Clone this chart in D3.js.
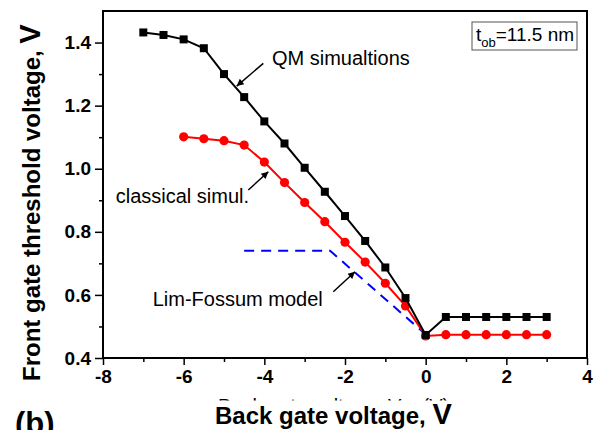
<!DOCTYPE html>
<html><head><meta charset="utf-8">
<script src="https://cdn.jsdelivr.net/npm/d3@7"></script>
<style>
body{margin:0;background:#fff}
svg{display:block}
text{font-family:"Liberation Sans",Arial,Helvetica,sans-serif}
</style>
</head><body>
<svg id="chart" width="599" height="430"></svg>
<script>
// ---- data ----
const qmX = [-7,-6.5,-6,-5.5,-5,-4.5,-4,-3.5,-3,-2.5,-2,-1.5,-1,-0.5,0,0.5,1,1.5,2,2.5,3];
const qmY = [1.432,1.424,1.410,1.382,1.300,1.227,1.150,1.080,1.003,0.927,0.850,0.771,0.687,0.590,0.473,0.530,0.530,0.530,0.530,0.530,0.530];
const clX = [-6,-5.5,-5,-4.5,-4,-3.5,-3,-2.5,-2,-1.5,-1,-0.5,0,0.5,1,1.5,2,2.5,3];
const clY = [1.101,1.095,1.089,1.075,1.021,0.956,0.893,0.832,0.767,0.704,0.637,0.565,0.470,0.474,0.474,0.474,0.474,0.474,0.474];
const lfX = [-4.5,-2.37,0];
const lfY = [0.740,0.740,0.475];
const xTickValues = [-8,-6,-4,-2,0,2,4];
const xTickLabels = ["-8","-6","-4","-2","0","2","4"];
const xMinorTicks = [-7,-5,-3,-1,1,3];
const yTickValues = [0.4,0.6,0.8,1.0,1.2,1.4];
const yTickLabels = ["0.4","0.6","0.8","1.0","1.2","1.4"];
const yMinorTicks = [0.5,0.7,0.9,1.1,1.3];
const annLabels = ["QM simualtions","classical simul.","Lim-Fossum model"];
const annTextX = [-3.81,-7.685,-6.768];
const annTextY = [1.328,0.890,0.566];
const annFromX = [-4.025,-4.397,-2.29];
const annFromY = [1.334,0.9326,0.610];
const annToX = [-4.685,-3.901,-1.752];
const annToY = [1.262,0.9906,0.6736];
const xTitle = "Back gate voltage, ";
const yTitle = "Front gate threshold voltage, ";
const unitV = "V";

// ---- layout ----
const svg = d3.select("#chart");
const L = 103, R = 587, T = 11, B = 358;
const x = d3.scaleLinear().domain([-8,4]).range([L,R]);
const y = d3.scaleLinear().domain([0.4,1.5]).range([B,T]);

const defs = svg.append("defs");
defs.append("marker").attr("id","ah").attr("viewBox","0 0 10 10")
  .attr("refX",10).attr("refY",5).attr("markerWidth",9).attr("markerHeight",7)
  .attr("markerUnits","userSpaceOnUse").attr("orient","auto")
  .append("path").attr("d","M0,0 L10,5 L0,10 z").attr("fill","#000");
defs.append("clipPath").attr("id","hid").append("rect")
  .attr("x",0).attr("y",397.5).attr("width",599).attr("height",3);

// hidden (mostly covered) axis title behind the bold one
const ht = svg.append("text").attr("clip-path","url(#hid)")
  .attr("x",218).attr("y",413).attr("font-size",20).attr("fill","#000");
ht.append("tspan").text("Back gate voltage, V");
ht.append("tspan").attr("font-size",14).attr("dy",4).text("bg");
ht.append("tspan").attr("dy",-4).text(" (V)");

// axes
const axB = d3.axisBottom(x).tickValues(xTickValues).tickSize(7).tickPadding(5)
  .tickFormat((d,i)=>xTickLabels[i]);
const gx = svg.append("g").attr("transform",`translate(0,${B})`).call(axB);
const axBm = d3.axisBottom(x).tickValues(xMinorTicks).tickSize(4).tickFormat("");
const gxm = svg.append("g").attr("transform",`translate(0,${B})`).call(axBm);
const axL = d3.axisLeft(y).tickValues(yTickValues).tickSize(8).tickPadding(4)
  .tickFormat((d,i)=>yTickLabels[i]);
const gy = svg.append("g").attr("transform",`translate(${L},0)`).call(axL);
const axLm = d3.axisLeft(y).tickValues(yMinorTicks).tickSize(4).tickFormat("");
const gym = svg.append("g").attr("transform",`translate(${L},0)`).call(axLm);
[gx,gxm,gy,gym].forEach(g=>{
  g.select(".domain").remove();
  g.selectAll("line").attr("stroke","#000").attr("stroke-width",1.5);
  g.selectAll("text").attr("font-size",19).attr("font-weight","bold")
    .attr("fill","#000").style("font-family",'"Liberation Sans",Arial,sans-serif');
});
gx.selectAll("text").attr("dy","0.71em");

// frame
svg.append("rect").attr("x",L).attr("y",T).attr("width",R-L).attr("height",B-T)
  .attr("fill","none").attr("stroke","#000").attr("stroke-width",2);

// Lim-Fossum dashed line
const lf = lfX.map((v,i)=>[v,lfY[i]]);
const line = d3.line().x(d=>x(d[0])).y(d=>y(d[1]));
svg.append("path").datum(lf).attr("d",line).attr("fill","none")
  .attr("stroke","#0000ff").attr("stroke-width",2).attr("stroke-dasharray","10,7");

// classical (red)
const cl = clX.map((v,i)=>[v,clY[i]]);
svg.append("path").datum(cl).attr("d",line).attr("fill","none")
  .attr("stroke","#ff0000").attr("stroke-width",2);
svg.append("g").selectAll("circle").data(cl).join("circle")
  .attr("cx",d=>x(d[0])).attr("cy",d=>y(d[1])).attr("r",4.6).attr("fill","#ff0000");

// QM (black)
const qm = qmX.map((v,i)=>[v,qmY[i]]);
svg.append("path").datum(qm).attr("d",line).attr("fill","none")
  .attr("stroke","#000").attr("stroke-width",2);
svg.append("g").selectAll("rect").data(qm).join("rect")
  .attr("x",d=>x(d[0])-4).attr("y",d=>y(d[1])-4).attr("width",8).attr("height",8)
  .attr("fill","#000");

// annotations
annLabels.forEach((t,i)=>{
  svg.append("text").attr("x",x(annTextX[i])).attr("y",y(annTextY[i]))
    .attr("font-size",20).attr("fill","#000").text(t);
  svg.append("line").attr("x1",x(annFromX[i])).attr("y1",y(annFromY[i]))
    .attr("x2",x(annToX[i])).attr("y2",y(annToY[i]))
    .attr("stroke","#000").attr("stroke-width",1.5).attr("marker-end","url(#ah)");
});

// t_ob box
svg.append("rect").attr("x",R-115).attr("y",T+11).attr("width",105).attr("height",28)
  .attr("fill","#fff").attr("stroke","#555").attr("stroke-width",1);
const tb = svg.append("text").attr("x",R-111).attr("y",T+30).attr("font-size",19).attr("fill","#000");
tb.append("tspan").text("t");
tb.append("tspan").attr("font-size",13).attr("dy",6).text("ob");
tb.append("tspan").attr("dy",-6).text("=11.5 nm");

// axis titles
const xt = svg.append("text").attr("x",215).attr("y",424).attr("font-size",24)
  .attr("font-weight","bold").attr("fill","#000");
xt.append("tspan").text(xTitle);
xt.append("tspan").attr("font-size",29).text(unitV);

const yt = svg.append("text").attr("transform","translate(40,381) rotate(-90)")
  .attr("font-size",24).attr("font-weight","bold").attr("fill","#000");
yt.append("tspan").text(yTitle);
yt.append("tspan").attr("font-size",29).text(unitV);

// panel label
svg.append("text").attr("x",15).attr("y",434).attr("font-size",31)
  .attr("font-weight","bold").attr("fill","#000").text("(b)");
</script>
</body></html>
